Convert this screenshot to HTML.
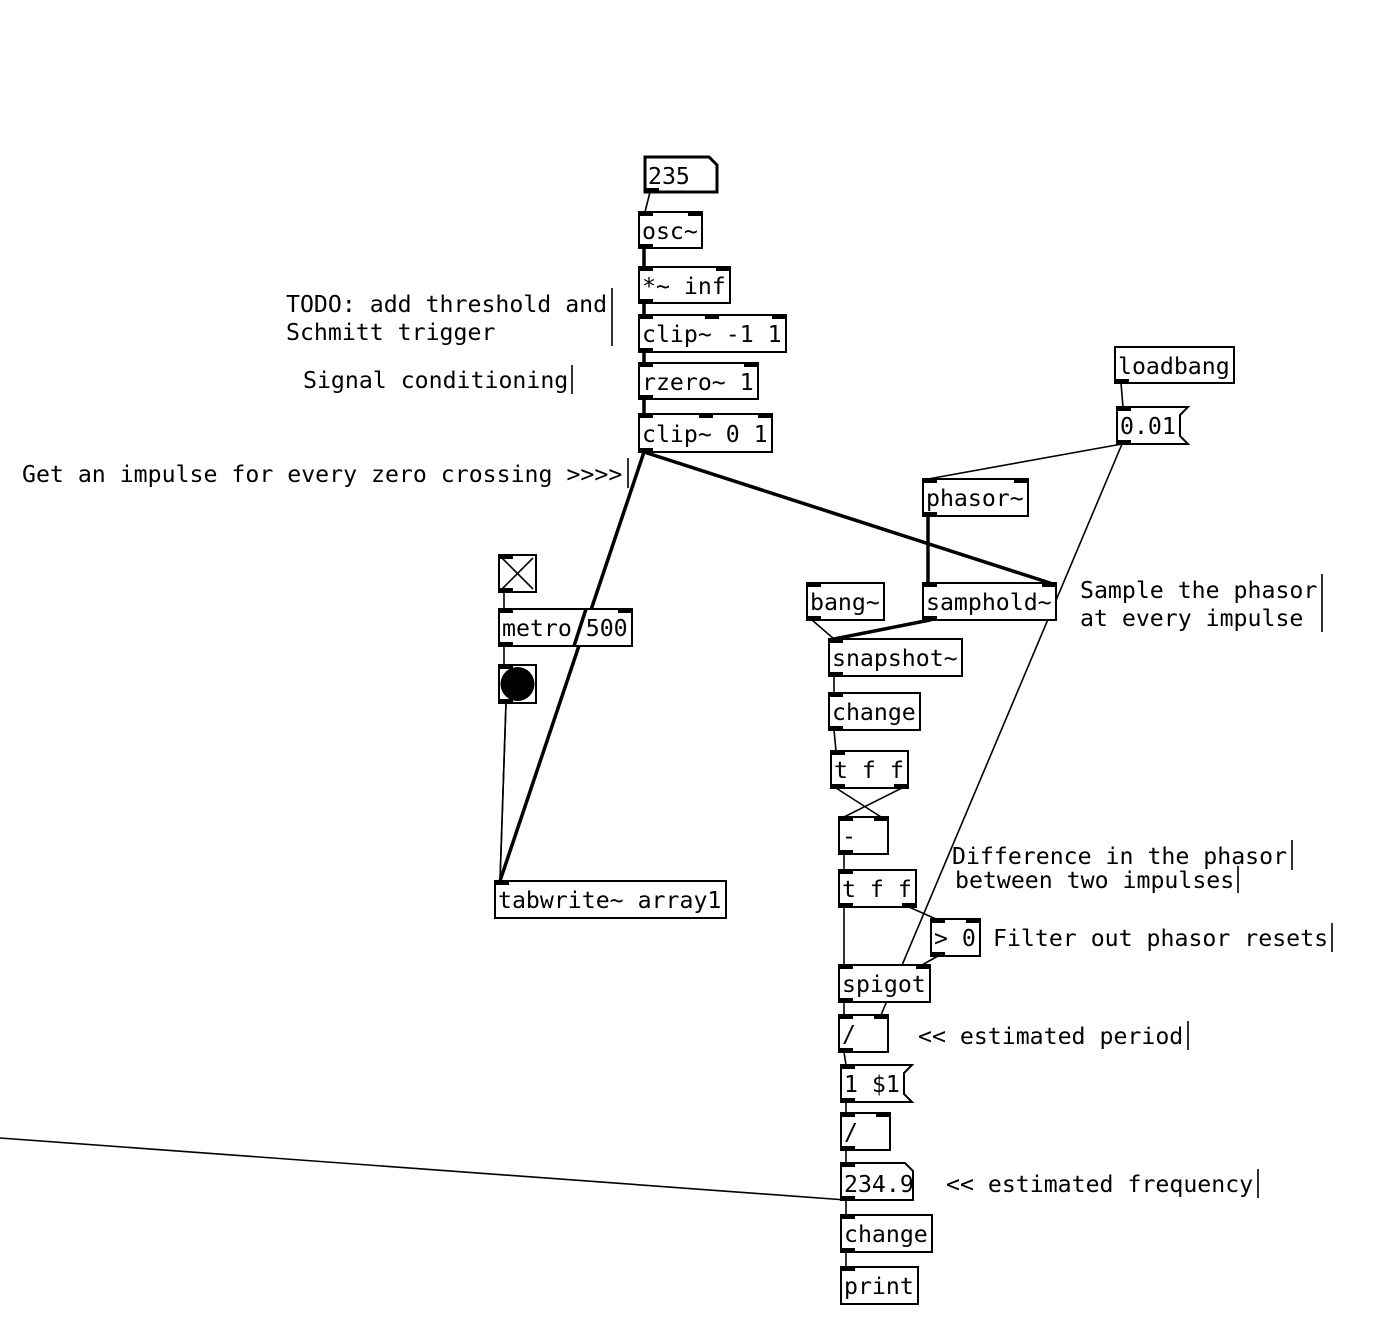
<!DOCTYPE html>
<html><head><meta charset="utf-8"><style>
html,body{margin:0;padding:0;background:#fff;}
svg{display:block;}
text{font-family:"DejaVu Sans Mono","Liberation Mono",monospace;font-size:23.2px;fill:#000;}
</style></head><body>
<svg width="1386" height="1330" viewBox="0 0 1386 1330" xmlns="http://www.w3.org/2000/svg">
<g stroke="#000" fill="none" stroke-linecap="round">
<g stroke-width="1.6">
<line x1="650" y1="192" x2="645" y2="212"/>
<line x1="1121" y1="383" x2="1123" y2="407"/>
<line x1="1122" y1="444" x2="928" y2="479"/>
<line x1="1122" y1="444" x2="881" y2="1015"/>
<line x1="812" y1="620" x2="834" y2="639"/>
<line x1="834" y1="676" x2="834" y2="693"/>
<line x1="834" y1="730" x2="836" y2="751"/>
<line x1="836" y1="788" x2="881" y2="817"/>
<line x1="902" y1="788" x2="844" y2="817"/>
<line x1="844" y1="854" x2="844" y2="870"/>
<line x1="844" y1="907" x2="844" y2="965"/>
<line x1="909" y1="907" x2="936" y2="919"/>
<line x1="938" y1="956" x2="922" y2="965"/>
<line x1="844" y1="1002" x2="844" y2="1015"/>
<line x1="844" y1="1052" x2="846" y2="1065"/>
<line x1="846" y1="1102" x2="846" y2="1113"/>
<line x1="846" y1="1150" x2="846" y2="1163"/>
<line x1="0" y1="1138" x2="846" y2="1200"/>
<line x1="846" y1="1200" x2="846" y2="1215"/>
<line x1="846" y1="1252" x2="846" y2="1267"/>
<line x1="504" y1="592" x2="504" y2="609"/>
<line x1="504" y1="646" x2="504" y2="665"/>
<line x1="506" y1="703" x2="500" y2="881"/>
</g>
<g stroke-width="3.5">
<line x1="644" y1="248" x2="644" y2="267"/>
<line x1="644" y1="303" x2="644" y2="315"/>
<line x1="644" y1="352" x2="644" y2="363"/>
<line x1="644" y1="399" x2="644" y2="414"/>
<line x1="644" y1="452" x2="500" y2="881"/>
<line x1="644" y1="452" x2="1050" y2="583"/>
<line x1="928" y1="516" x2="928" y2="583"/>
<line x1="930" y1="620" x2="834" y2="639"/>
</g>
</g>

<g stroke="#000" stroke-width="2" fill="#fff">
<path d="M645 157 H709 L717 165 V192 H645 Z" stroke-width="3"/>
<rect x="639" y="212" width="63" height="36"/>
<rect x="639" y="267" width="91" height="36"/>
<rect x="639" y="315" width="147" height="37"/>
<rect x="639" y="363" width="119" height="36"/>
<rect x="639" y="414" width="133" height="38"/>
<rect x="1115" y="347" width="119" height="36"/>
<path d="M1117 407 H1188 L1180 415 V436 L1188 444 H1117 Z"/>
<rect x="923" y="479" width="105" height="37"/>
<rect x="499" y="555" width="37" height="37"/>
<rect x="499" y="609" width="133" height="37"/>
<rect x="499" y="665" width="37" height="38"/>
<rect x="807" y="583" width="77" height="37"/>
<rect x="923" y="583" width="133" height="37"/>
<rect x="829" y="639" width="133" height="37"/>
<rect x="829" y="693" width="91" height="37"/>
<rect x="831" y="751" width="77" height="37"/>
<rect x="839" y="817" width="49" height="37"/>
<rect x="839" y="870" width="77" height="37"/>
<rect x="931" y="919" width="49" height="37"/>
<rect x="839" y="965" width="91" height="37"/>
<rect x="839" y="1015" width="49" height="37"/>
<path d="M841 1065 H912 L904 1073 V1094 L912 1102 H841 Z"/>
<rect x="841" y="1113" width="49" height="37"/>
<path d="M841 1163 H905 L913 1171 V1200 H841 Z"/>
<rect x="841" y="1215" width="91" height="37"/>
<rect x="841" y="1267" width="77" height="37"/>
<rect x="495" y="881" width="231" height="37"/>
</g>
<g stroke="#000" stroke-width="1.6">
<line x1="502" y1="558" x2="533" y2="589"/>
<line x1="533" y1="558" x2="502" y2="589"/>
</g>
<circle cx="517.5" cy="684" r="17" fill="#000"/>
<line x1="506" y1="703" x2="500" y2="881" stroke="#000" stroke-width="1.6"/>
<line x1="586" y1="609" x2="574" y2="646" stroke="#000" stroke-width="3.5"/>

<g fill="#000">
<rect x="639" y="212" width="14" height="4"/><rect x="688" y="212" width="14" height="4"/><rect x="639" y="244" width="14" height="4"/>
<rect x="639" y="267" width="14" height="4"/><rect x="716" y="267" width="14" height="4"/><rect x="639" y="299" width="14" height="4"/>
<rect x="639" y="315" width="14" height="4"/><rect x="705" y="315" width="14" height="4"/><rect x="772" y="315" width="14" height="4"/><rect x="639" y="348" width="14" height="4"/>
<rect x="639" y="363" width="14" height="4"/><rect x="744" y="363" width="14" height="4"/><rect x="639" y="395" width="14" height="4"/>
<rect x="639" y="414" width="14" height="4"/><rect x="699" y="414" width="14" height="4"/><rect x="758" y="414" width="14" height="4"/><rect x="639" y="448" width="14" height="4"/>
<rect x="645" y="188" width="14" height="4"/>
<rect x="1115" y="379" width="14" height="4"/>
<rect x="1117" y="407" width="14" height="4"/><rect x="1117" y="440" width="14" height="4"/>
<rect x="923" y="479" width="14" height="4"/><rect x="1014" y="479" width="14" height="4"/><rect x="923" y="512" width="14" height="4"/>
<rect x="499" y="555" width="14" height="4"/><rect x="499" y="588" width="14" height="4"/>
<rect x="499" y="609" width="14" height="4"/><rect x="618" y="609" width="14" height="4"/><rect x="499" y="642" width="14" height="4"/>
<rect x="499" y="665" width="14" height="4"/><rect x="499" y="699" width="14" height="4"/>
<rect x="807" y="583" width="14" height="4"/><rect x="807" y="616" width="14" height="4"/>
<rect x="923" y="583" width="14" height="4"/><rect x="1042" y="583" width="14" height="4"/><rect x="923" y="616" width="14" height="4"/>
<rect x="829" y="639" width="14" height="4"/><rect x="829" y="672" width="14" height="4"/>
<rect x="829" y="693" width="14" height="4"/><rect x="829" y="726" width="14" height="4"/>
<rect x="831" y="751" width="14" height="4"/><rect x="831" y="784" width="14" height="4"/><rect x="894" y="784" width="14" height="4"/>
<rect x="839" y="817" width="14" height="4"/><rect x="874" y="817" width="14" height="4"/><rect x="839" y="850" width="14" height="4"/>
<rect x="839" y="870" width="14" height="4"/><rect x="839" y="903" width="14" height="4"/><rect x="902" y="903" width="14" height="4"/>
<rect x="931" y="919" width="14" height="4"/><rect x="966" y="919" width="14" height="4"/><rect x="931" y="952" width="14" height="4"/>
<rect x="839" y="965" width="14" height="4"/><rect x="916" y="965" width="14" height="4"/><rect x="839" y="998" width="14" height="4"/>
<rect x="839" y="1015" width="14" height="4"/><rect x="874" y="1015" width="14" height="4"/><rect x="839" y="1048" width="14" height="4"/>
<rect x="841" y="1065" width="14" height="4"/><rect x="841" y="1098" width="14" height="4"/>
<rect x="841" y="1113" width="14" height="4"/><rect x="876" y="1113" width="14" height="4"/><rect x="841" y="1146" width="14" height="4"/>
<rect x="841" y="1163" width="14" height="4"/><rect x="841" y="1196" width="14" height="4"/>
<rect x="841" y="1215" width="14" height="4"/><rect x="841" y="1248" width="14" height="4"/>
<rect x="841" y="1267" width="14" height="4"/>
<rect x="495" y="881" width="14" height="4"/>
</g>

<text x="648" y="184">235</text>
<text x="642" y="239">osc~</text>
<text x="642" y="294">*~ inf</text>
<text x="642" y="342">clip~ -1 1</text>
<text x="642" y="390">rzero~ 1</text>
<text x="642" y="442">clip~ 0 1</text>
<text x="1118" y="374">loadbang</text>
<text x="1120" y="434">0.01</text>
<text x="926" y="506">phasor~</text>
<text x="502" y="636">metro 500</text>
<text x="810" y="610">bang~</text>
<text x="926" y="610">samphold~</text>
<text x="832" y="666">snapshot~</text>
<text x="832" y="720">change</text>
<text x="834" y="778">t f f</text>
<text x="842" y="844">-</text>
<text x="842" y="897">t f f</text>
<text x="934" y="946">&gt; 0</text>
<text x="842" y="992">spigot</text>
<text x="842" y="1042">/</text>
<text x="844" y="1092">1 $1</text>
<text x="844" y="1140">/</text>
<text x="844" y="1192">234.9</text>
<text x="844" y="1242">change</text>
<text x="844" y="1294">print</text>
<text x="498" y="908">tabwrite~ array1</text>

<text x="286" y="312">TODO: add threshold and</text>
<text x="286" y="340">Schmitt trigger</text>
<text x="303" y="388">Signal conditioning</text>
<text x="22" y="482">Get an impulse for every zero crossing &gt;&gt;&gt;&gt;</text>
<text x="1080" y="598">Sample the phasor</text>
<text x="1080" y="626">at every impulse</text>
<text x="952" y="864">Difference in the phasor</text>
<text x="955" y="888">between two impulses</text>
<text x="993" y="946">Filter out phasor resets</text>
<text x="918" y="1044">&lt;&lt; estimated period</text>
<text x="946" y="1192">&lt;&lt; estimated frequency</text>
<g stroke="#000" stroke-width="1.6">
<line x1="612" y1="288" x2="612" y2="346"/>
<line x1="572" y1="365" x2="572" y2="394"/>
<line x1="628" y1="458" x2="628" y2="488"/>
<line x1="1322" y1="574" x2="1322" y2="632"/>
<line x1="1292" y1="840" x2="1292" y2="870"/>
<line x1="1238" y1="866" x2="1238" y2="893"/>
<line x1="1332" y1="923" x2="1332" y2="952"/>
<line x1="1188" y1="1021" x2="1188" y2="1050"/>
<line x1="1258" y1="1169" x2="1258" y2="1198"/>
</g>
</svg>
</body></html>
